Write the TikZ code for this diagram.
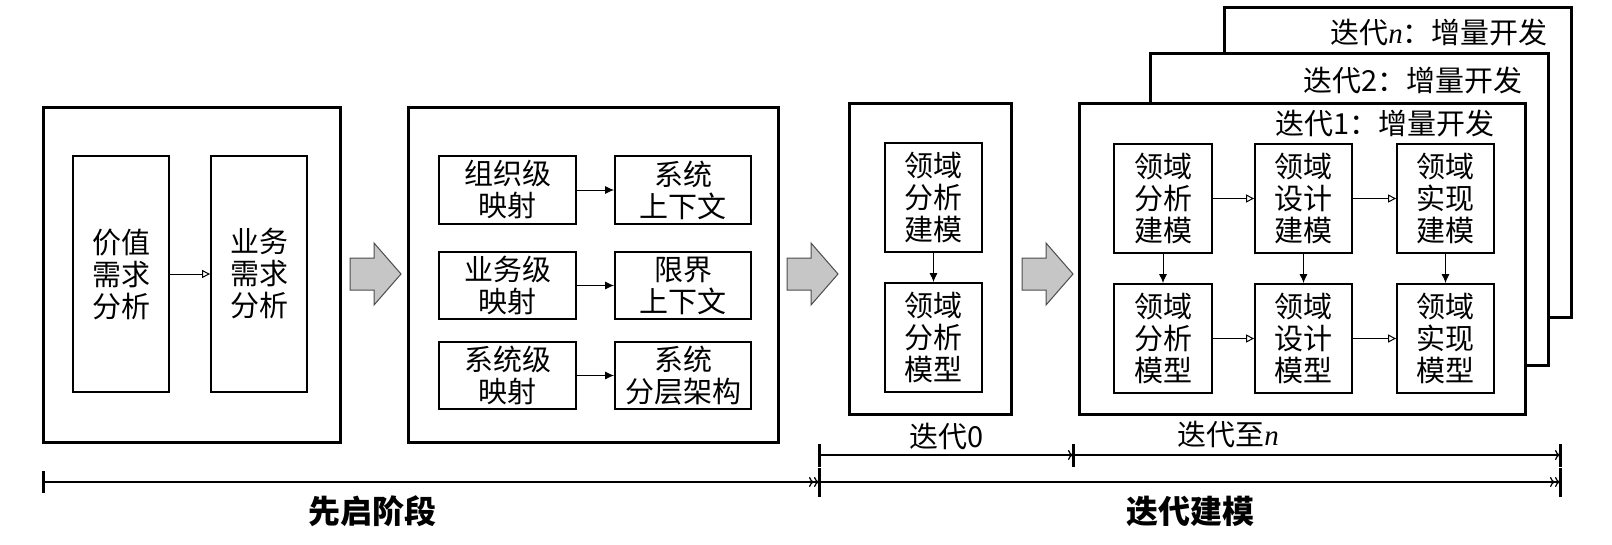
\documentclass[tikz,border=0pt]{standalone}
\usepackage{fontspec}
\setmainfont{Noto Sans CJK SC}
\newfontfamily\romanit{Liberation Serif}
\usetikzlibrary{arrows.meta}

\newcommand{\itern}{{\romanit\itshape n}}

\begin{document}
\begin{tikzpicture}[x=1pt,y=-1pt,
		outer/.style={draw,line width=3pt,fill=white,inner sep=0pt},
		cell/.style={draw,line width=1.8pt,align=center,inner sep=0pt,font=\fontsize{29}{32}\selectfont},
		lbl/.style={font=\fontsize{29}{32}\selectfont,inner sep=0pt},
		hollowarr/.style={-{Triangle[open,length=8pt,width=8pt]},line width=1pt},
		fullarr/.style={-{Latex[length=9pt,width=8pt]},line width=1pt},
		tline/.style={line width=1.3pt}]
		\useasboundingbox (0,0) rectangle (1612,544);
		% stage 1
		\node[outer,minimum width=297,minimum height=335] (stage1) at (191.5,274.5) {};
		\node[cell,minimum width=96,minimum height=236] (valreq) at (121,274) {价值\\需求\\分析};
		\node[cell,minimum width=96,minimum height=236] (bizreq) at (259,274) {业务\\需求\\分析};
		\draw[hollowarr] (valreq) -- (bizreq);
		% stage 2
		\node[outer,minimum width=370,minimum height=335] (stage2) at (593,274.5) {};
		\node[cell,minimum width=137,minimum height=68] (orgmap) at (507.5,190) {组织级\\映射};
		\node[cell,minimum width=136,minimum height=68] (sysctx) at (683,190) {系统\\上下文};
		\node[cell,minimum width=137,minimum height=67] (bizmap) at (507.5,285.5) {业务级\\映射};
		\node[cell,minimum width=136,minimum height=67] (bndctx) at (683,285.5) {限界\\上下文};
		\node[cell,minimum width=137,minimum height=67] (sysmap) at (507.5,375.5) {系统级\\映射};
		\node[cell,minimum width=136,minimum height=67] (layers) at (683,375.5) {系统\\分层架构};
		\draw[fullarr] (orgmap) -- (sysctx);
		\draw[fullarr] (bizmap) -- (bndctx);
		\draw[fullarr] (sysmap) -- (layers);
		% iteration 0
		\node[outer,minimum width=162,minimum height=311] (iter0) at (930,258.5) {};
		\node[cell,minimum width=97,minimum height=109] (da0) at (933.5,197.5) {领域\\分析\\建模};
		\node[cell,minimum width=97,minimum height=109] (dam0) at (933.5,337.5) {领域\\分析\\模型};
		\draw[fullarr] (da0) -- (dam0);
		% iterations 1..n
		\node[outer,minimum width=347,minimum height=310] (itern) at (1397.5,162) {};
		\node[lbl,anchor=east] (lbln) at (1548,32) {迭代\itern：增量开发};
		\node[outer,minimum width=398,minimum height=312] (iter2) at (1349,209) {};
		\node[lbl,anchor=east] (lbl2) at (1523,80) {迭代2：增量开发};
		\node[outer,minimum width=446,minimum height=311] (iter1) at (1302,258.5) {};
		\node[lbl,anchor=east] (lbl1) at (1495,123) {迭代1：增量开发};
		\node[cell,minimum width=98,minimum height=109] (da1) at (1163,198.5) {领域\\分析\\建模};
		\node[cell,minimum width=97,minimum height=109] (dd1) at (1303.5,198.5) {领域\\设计\\建模};
		\node[cell,minimum width=97,minimum height=109] (di1) at (1445.5,198.5) {领域\\实现\\建模};
		\node[cell,minimum width=98,minimum height=109] (dam1) at (1163,338.5) {领域\\分析\\模型};
		\node[cell,minimum width=97,minimum height=109] (ddm1) at (1303.5,338.5) {领域\\设计\\模型};
		\node[cell,minimum width=97,minimum height=109] (dim1) at (1445.5,338.5) {领域\\实现\\模型};
		\draw[hollowarr] (da1) -- (dd1);
		\draw[hollowarr] (dd1) -- (di1);
		\draw[hollowarr] (dam1) -- (ddm1);
		\draw[hollowarr] (ddm1) -- (dim1);
		\draw[fullarr] (da1) -- (dam1);
		\draw[fullarr] (dd1) -- (ddm1);
		\draw[fullarr] (di1) -- (dim1);
		% gray block arrows
		\foreach \x in {350,787,1022}{
			\draw[fill=gray!45,draw=gray!60!black,line width=1pt] (\x,258) -- ++(24,0) -- ++(0,-15) -- ++(27,31) -- ++(-27,31) -- ++(0,-15) -- ++(-24,0) -- cycle;
		}
		% time lines
		\coordinate (a0) at (43,482);
		\coordinate (a1) at (819,482);
		\coordinate (a2) at (1560,482);
		\coordinate (b0) at (819,455);
		\coordinate (b1) at (1073,455);
		\coordinate (b2) at (1560,455);
		\draw[tline,-{To[length=5pt,width=10pt]To[length=5pt,width=10pt]}] (a0) -- (a1);
		\draw[tline,-{To[length=5pt,width=10pt]To[length=5pt,width=10pt]}] (a1) -- (a2);
		\draw[tline,-{To[length=5pt,width=10pt]}] (b0) -- (b1);
		\draw[tline,-{To[length=5pt,width=10pt]}] (b1) -- (b2);
		\foreach \p/\h in {a0/11, a1/14.5, a2/14.5, b0/11.5, b1/11.5, b2/11.5}{
			\draw[line width=3pt] ([yshift=-\h pt]\p) -- ([yshift=\h pt]\p);
		}
		\node[lbl] (it0txt) at (947,437) {迭代0};
		\node[lbl] (itntxt) at (1228,435) {迭代至\itern};
		\node[lbl,font=\fontsize{32}{36}\selectfont\bfseries] (phase1) at (372,511) {先启阶段};
		\node[lbl,font=\fontsize{32}{36}\selectfont\bfseries] (phase2) at (1190,511) {迭代建模};
\end{tikzpicture}
\end{document}
